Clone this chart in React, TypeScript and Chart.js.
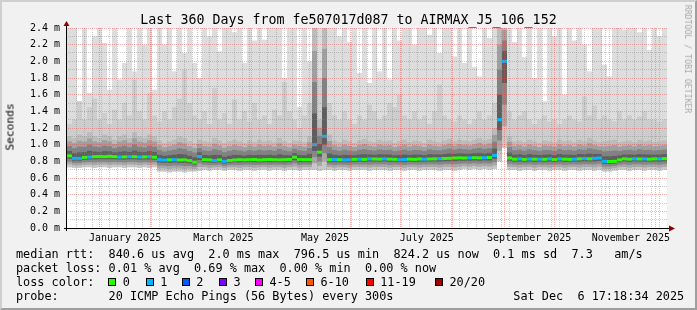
import React, { useEffect, useRef } from "react";
import { Chart, registerables } from "chart.js";

Chart.register(...registerables);

// ---------------- text ----------------
const TITLE = "Last 360 Days from fe507017d087 to AIRMAX_J5_106_152";
const Y_TITLE = "Seconds";
const WATERMARK = "RRDTOOL / TOBI OETIKER";
const LEGEND_RTT = "median rtt:  840.6 us avg  2.0 ms max  796.5 us min  824.2 us now  0.1 ms sd  7.3   am/s";
const LEGEND_LOSS = "packet loss: 0.01 % avg  0.69 % max  0.00 % min  0.00 % now";
const LEGEND_COLOR = "loss color:";
const PROBE = "probe:       20 ICMP Echo Pings (56 Bytes) every 300s";
const STAMP = "Sat Dec  6 17:18:34 2025";

// ---------------- axes ----------------
const SPAN_DAYS = 360;
const SLOT_DAYS = 3; // one smoke column = 3 days
const START = Date.UTC(2024, 11, 12, 16, 0);
const DAY_MS = 86400000;
const yTicks = [0, 0.2, 0.4, 0.6, 0.8, 1.0, 1.2, 1.4, 1.6, 1.8, 2.0, 2.2, 2.4];
const monthLabels = ["January 2025", "March 2025", "May 2025", "July 2025", "September 2025", "November 2025"];
const monthLabelIdx = [0, 2, 4, 6, 8, 10];

// ---------------- loss legend ----------------
const lossColors = ["#26ff00", "#00b8ff", "#0059ff", "#7e00ff", "#ff00ff", "#ff5500", "#ff0000", "#a10000"];
const lossLabels = ["0", "1", "2", "3", "4-5", "6-10", "11-19", "20/20"];

// ---------------- data (ms), 120 columns ----------------
const smokeTop = [
  2.5, 2.5, 1.52, 2.5, 1.62, 2.3, 2.5, 2.22, 1.66, 2.5,
  1.78, 1.98, 2.5, 1.88, 2.5, 2.2, 2.5, 1.66, 2.5, 2.2,
  2.5, 1.88, 2.5, 2.1, 2.5, 1.98, 1.8, 2.5, 2.3, 2.5,
  2.12, 2.5, 2.5, 2.35, 2.5, 1.98, 2.5, 2.25, 2.5, 2.26,
  2.5, 2.5, 2.5, 1.8, 2.5, 2.5, 1.45, 2.5, 2.0, 2.5,
  2.5, 2.5, 2.5, 2.5, 2.3, 2.5, 2.23, 2.5, 1.86, 2.5,
  1.74, 2.5, 1.88, 2.5, 1.78, 2.5, 2.25, 2.5, 2.5, 2.2,
  2.5, 2.5, 2.32, 2.5, 2.1, 2.5, 2.5, 2.06, 2.5, 1.98,
  2.5, 1.93, 1.82, 2.5, 2.28, 2.5, 2.5, 2.5, 2.5, 2.23,
  2.5, 2.05, 2.5, 1.8, 2.5, 1.52, 2.5, 2.3, 2.5, 1.6,
  2.5, 2.25, 2.5, 2.2, 1.88, 2.5, 2.5, 1.96, 1.82, 2.5,
  2.5, 2.38, 2.5, 2.5, 2.35, 2.5, 2.14, 2.5, 2.3, 2.5,
];

const smokeHi = [
  1.25, 1.3, 1.52, 1.3, 1.45, 1.55, 1.3, 1.38, 1.25, 1.42,
  1.3, 1.5, 1.35, 1.78, 1.4, 1.3, 1.62, 1.35, 1.28, 1.4,
  1.3, 1.45, 1.55, 1.9, 1.5, 1.35, 1.3, 1.4, 1.25, 1.68,
  1.3, 1.38, 1.25, 1.54, 1.3, 1.4, 1.28, 1.5, 1.3, 1.35,
  1.25, 1.42, 1.35, 1.75, 1.4, 1.3, 1.2, 1.35, 1.5, 2.5,
  1.8, 2.5, 1.5, 1.35, 1.3, 1.4, 1.3, 1.25, 1.35, 1.3,
  1.48, 1.4, 1.3, 1.35, 1.5, 1.45, 1.6, 1.35, 1.3, 1.4,
  1.3, 1.35, 1.25, 1.4, 1.72, 1.35, 1.3, 1.28, 1.35, 1.3,
  1.25, 1.3, 1.4, 1.3, 1.35, 1.5, 2.5, 2.5, 1.4, 1.3,
  1.35, 1.4, 1.3, 1.25, 1.3, 1.35, 1.28, 1.3, 1.25, 1.3,
  1.35, 1.3, 1.28, 1.58, 1.35, 1.47, 1.3, 1.35, 1.3, 1.28,
  1.4, 1.3, 1.35, 1.3, 1.34, 1.4, 1.3, 1.3, 1.28, 1.3,
];

const smokeMid = [
  1.1, 1.08, 1.12, 1.1, 1.15, 1.1, 1.08, 1.12, 1.1, 1.06,
  1.1, 1.12, 1.08, 1.15, 1.1, 1.08, 1.12, 1.1, 1.05, 1.02,
  1.04, 1.06, 1.1, 1.08, 1.04, 1.02, 1.06, 1.04, 1.03, 1.08,
  1.05, 1.02, 1.04, 1.06, 1.04, 1.02, 1.05, 1.03, 1.06, 1.04,
  1.05, 1.03, 1.08, 1.04, 1.02, 1.05, 1.04, 1.03, 1.1, 2.5,
  1.3, 2.5, 1.12, 1.05, 1.03, 1.06, 1.04, 1.02, 1.05, 1.07,
  1.04, 1.03, 1.06, 1.04, 1.05, 1.02, 1.04, 1.06, 1.03, 1.05,
  1.04, 1.02, 1.06, 1.04, 1.03, 1.05, 1.07, 1.04, 1.06, 1.05,
  1.04, 1.06, 1.08, 1.05, 1.07, 1.2, 2.5, 2.5, 1.1, 1.04,
  1.05, 1.03, 1.06, 1.04, 1.02, 1.05, 1.04, 1.03, 1.06, 1.04,
  1.05, 1.03, 1.06, 1.04, 1.08, 1.05, 1.03, 1.04, 1.05, 1.06,
  1.03, 1.04, 1.05, 1.03, 1.06, 1.04, 1.05, 1.03, 1.04, 1.05,
];

const median = [
  0.866, 0.836, 0.836, 0.848, 0.852, 0.856, 0.858, 0.856, 0.86, 0.856,
  0.852, 0.854, 0.856, 0.856, 0.852, 0.854, 0.856, 0.85, 0.82, 0.816,
  0.818, 0.82, 0.816, 0.818, 0.808, 0.79, 0.858, 0.82, 0.818, 0.81,
  0.818, 0.8, 0.81, 0.816, 0.82, 0.818, 0.82, 0.822, 0.816, 0.82,
  0.822, 0.82, 0.818, 0.82, 0.822, 0.85, 0.822, 0.82, 0.82, 1.0,
  0.91, 1.1, 0.82, 0.822, 0.82, 0.818, 0.82, 0.824, 0.826, 0.824,
  0.83, 0.828, 0.826, 0.83, 0.826, 0.824, 0.82, 0.822, 0.826, 0.824,
  0.828, 0.826, 0.828, 0.83, 0.832, 0.834, 0.836, 0.84, 0.842, 0.84,
  0.842, 0.844, 0.842, 0.844, 0.846, 0.87, 1.3, 2.0, 0.84, 0.826,
  0.83, 0.824, 0.828, 0.826, 0.826, 0.824, 0.83, 0.822, 0.83, 0.826,
  0.824, 0.826, 0.83, 0.834, 0.83, 0.836, 0.84, 0.8, 0.798, 0.8,
  0.818, 0.83, 0.826, 0.83, 0.828, 0.83, 0.826, 0.83, 0.83, 0.832,
];

const smokeMin = [
  0.73, 0.72, 0.72, 0.73, 0.73, 0.72, 0.73, 0.73, 0.72, 0.73,
  0.73, 0.72, 0.73, 0.73, 0.72, 0.73, 0.72, 0.73, 0.68, 0.68,
  0.67, 0.68, 0.68, 0.67, 0.68, 0.68, 0.69, 0.7, 0.69, 0.7,
  0.7, 0.69, 0.7, 0.7, 0.69, 0.7, 0.7, 0.69, 0.7, 0.7,
  0.69, 0.7, 0.7, 0.69, 0.7, 0.7, 0.69, 0.7, 0.7, 0.7,
  0.69, 0.7, 0.7, 0.69, 0.7, 0.7, 0.69, 0.7, 0.7, 0.7,
  0.69, 0.7, 0.7, 0.7, 0.69, 0.7, 0.7, 0.69, 0.7, 0.7,
  0.69, 0.7, 0.7, 0.7, 0.69, 0.7, 0.7, 0.69, 0.7, 0.71,
  0.7, 0.71, 0.7, 0.71, 0.7, 0.71, 0.8, 0.96, 0.7, 0.7,
  0.69, 0.7, 0.7, 0.69, 0.7, 0.7, 0.69, 0.7, 0.7, 0.69,
  0.7, 0.7, 0.69, 0.7, 0.7, 0.69, 0.7, 0.68, 0.68, 0.69,
  0.7, 0.7, 0.69, 0.7, 0.7, 0.69, 0.7, 0.7, 0.69, 0.7,
];

// lost pings per column (index into lossColors)
const loss = [
  0, 1, 1, 0, 1, 0, 0, 0, 0, 0,
  1, 0, 1, 0, 1, 0, 1, 0, 1, 1,
  0, 1, 0, 0, 0, 0, 1, 0, 0, 1,
  0, 1, 0, 0, 0, 0, 0, 0, 0, 0,
  0, 0, 0, 0, 0, 0, 0, 0, 0, 1,
  0, 1, 0, 1, 0, 1, 1, 0, 1, 0,
  1, 0, 0, 1, 0, 0, 1, 1, 0, 0,
  0, 1, 0, 0, 1, 0, 0, 0, 0, 0,
  1, 0, 0, 1, 0, 1, 1, 1, 0, 0,
  1, 0, 1, 0, 1, 0, 1, 0, 1, 0,
  0, 1, 0, 1, 0, 1, 1, 1, 0, 0,
  0, 0, 0, 1, 0, 1, 0, 0, 1, 0,
];

// ---------------- helpers ----------------
const dayOf = (ms: number) => (ms - START) / DAY_MS;
const monthStartDays = Array.from({ length: 12 }, (_, m) => dayOf(Date.UTC(2025, m, 1)));
const monthMidDays = monthLabelIdx.map((m) => (dayOf(Date.UTC(2025, m, 1)) + dayOf(Date.UTC(2025, m + 1, 1))) / 2);
const xs = smokeTop.map((_, i) => i * SLOT_DAYS + SLOT_DAYS / 2);

const FONT = '"DejaVu Sans Mono", "Liberation Mono", monospace';

function buildDatasets() {
  const ds: any[] = [];
  const add = (lo: (i: number) => number, hi: (i: number) => number, color: any) => {
    ds.push({
      type: "bar",
      data: xs.map((x, i) => ({ x, y: [lo(i), hi(i)] })),
      backgroundColor: color,
      borderWidth: 0,
      grouped: false,
      barPercentage: 1,
      categoryPercentage: 1,
      inflateAmount: 0,
      order: 1000 - ds.length,
    });
  };
  add((i) => smokeMin[i], (i) => smokeTop[i], "#dddddd");
  add((i) => smokeMin[i], (i) => smokeHi[i], "#cdcdcd");
  // upper smoke shading (median -> smokeMid)
  const upper = ["#bcbcbc", "#a0a0a0", "#828282", "#5e5e5e"];
  upper.forEach((c, k) => {
    const f = (4 - k) / 4;
    add((i) => median[i], (i) => median[i] + (smokeMid[i] - median[i]) * f, c);
  });
  // lower smoke shading (smokeMin -> median)
  const lower = ["#c8c8c8", "#a8a8a8", "#878787", "#5e5e5e"];
  lower.forEach((c, k) => {
    const f = k / 4;
    add((i) => smokeMin[i] + (median[i] - smokeMin[i]) * f, (i) => median[i], c);
  });
  // median
  add((i) => median[i] - 0.018, (i) => median[i] + 0.018, loss.map((l) => lossColors[l]));
  return ds;
}

const rrdPlugin = {
  id: "rrdGrid",
  beforeDatasetsDraw(chart: any) {
    const { ctx, chartArea: a } = chart;
    ctx.save();
    ctx.fillStyle = "#ffffff";
    ctx.fillRect(a.left, a.top, a.right - a.left, a.bottom - a.top);
    ctx.restore();
  },
  afterDatasetsDraw(chart: any) {
    const { ctx, chartArea: a, scales } = chart;
    const x = scales.x;
    const y = scales.y;
    ctx.save();
    const hline = (v: number, color: string) => {
      const py = Math.floor(y.getPixelForValue(v));
      if (py < a.top || py >= a.bottom) return;
      ctx.fillStyle = color;
      for (let px = Math.ceil(a.left) + 1; px < a.right; px += 2) ctx.fillRect(px, py, 1, 1);
    };
    const vline = (d: number, color: string) => {
      const px = Math.floor(x.getPixelForValue(d));
      if (px <= a.left || px >= a.right) return;
      ctx.fillStyle = color;
      for (let py = Math.ceil(a.top); py < a.bottom; py += 2) ctx.fillRect(px, py, 1, 1);
    };
    const minor = "rgba(130,130,130,0.42)";
    const major = "rgba(235,70,70,0.42)";
    for (let k = 1; k < 24; k += 2) hline(k / 10, minor);
    for (let d = 5.5; d < SPAN_DAYS; d += 5) vline(d, minor);
    yTicks.forEach((v) => v > 0 && hline(v, major));
    monthStartDays.forEach((d) => vline(d, major));
    // axes
    ctx.fillStyle = "#000";
    ctx.fillRect(Math.round(a.left) - 1, a.top - 6, 1, a.bottom - a.top + 9);
    ctx.fillRect(a.left - 3, Math.round(a.bottom), a.right - a.left + 9, 1);
    ctx.fillStyle = "#8b0000";
    ctx.beginPath();
    ctx.moveTo(a.left - 0.5, a.top - 7);
    ctx.lineTo(a.left - 3.5, a.top - 2);
    ctx.lineTo(a.left + 2.5, a.top - 2);
    ctx.closePath();
    ctx.fill();
    ctx.beginPath();
    ctx.moveTo(a.right + 8, a.bottom + 0.5);
    ctx.lineTo(a.right + 2, a.bottom - 2.5);
    ctx.lineTo(a.right + 2, a.bottom + 3.5);
    ctx.closePath();
    ctx.fill();
    ctx.restore();
  },
};

const Txt = ({ x, y, size, color = "#000", children }: any) => (
  <div
    style={{
      position: "absolute",
      left: x,
      top: y,
      transform: "translateY(-50%)",
      fontSize: size,
      lineHeight: "normal",
      whiteSpace: "pre",
      color,
    }}
  >
    {children}
  </div>
);

const boxX = [108.3, 145.7, 181.7, 219, 255, 306, 365.7, 435];

export default function App() {
  const ref = useRef<HTMLCanvasElement>(null);
  useEffect(() => {
    const chart = new Chart(ref.current as HTMLCanvasElement, {
      type: "bar",
      data: { datasets: buildDatasets() },
      plugins: [rrdPlugin],
      options: {
        animation: false,
        responsive: false,
        devicePixelRatio: 1,
        events: [],
        layout: { padding: { left: 0, right: 30, top: 28, bottom: 62 } },
        plugins: { legend: { display: false }, tooltip: { enabled: false }, title: { display: false } },
        scales: {
          x: {
            type: "linear",
            min: 0,
            max: SPAN_DAYS,
            offset: false,
            grid: { display: false, offset: false, drawTicks: false, tickLength: 0 },
            border: { display: false },
            afterFit: (s: any) => {
              s.height = 20;
            },
            afterBuildTicks: (s: any) => {
              s.ticks = monthMidDays.map((v) => ({ value: v }));
            },
            ticks: {
              autoSkip: false,
              maxRotation: 0,
              minRotation: 0,
              padding: 4,
              color: "#000",
              font: { family: FONT, size: 10 },
              callback: (_v: any, i: number) => monthLabels[i],
            },
          },
          y: {
            type: "linear",
            min: 0,
            max: 2.4,
            grid: { display: false, drawTicks: false, tickLength: 0 },
            border: { display: false },
            afterFit: (s: any) => {
              s.width = 67;
            },
            afterBuildTicks: (s: any) => {
              s.ticks = yTicks.map((v) => ({ value: v }));
            },
            ticks: {
              autoSkip: false,
              padding: 7,
              color: "#000",
              font: { family: FONT, size: 10 },
              callback: (v: any) => Number(v).toFixed(1) + " m",
            },
          },
        },
      } as any,
    });
    return () => chart.destroy();
  }, []);

  return (
    <div
      style={{
        position: "fixed",
        left: 0,
        top: 0,
        width: 697,
        height: 310,
        background: "#f1f1f1",
        overflow: "hidden",
        fontFamily: FONT,
      }}
    >
      <canvas ref={ref} width={697} height={310} style={{ position: "absolute", left: 0, top: 0, width: 697, height: 310 }} />
      <div
        style={{
          position: "absolute",
          left: 0,
          top: 19.4,
          width: 697,
          textAlign: "center",
          transform: "translateY(-50%)",
          fontSize: 13.3,
          lineHeight: "normal",
          whiteSpace: "pre",
        }}
      >
        {TITLE}
      </div>
      <div
        style={{
          position: "absolute",
          left: 10,
          top: 127,
          transform: "translate(-50%,-50%) rotate(-90deg)",
          fontSize: 11.2,
          lineHeight: "normal",
          whiteSpace: "pre",
          color: "#000",
        }}
      >
        {Y_TITLE}
      </div>
      <div
        style={{
          position: "absolute",
          left: 687.5,
          top: 59,
          transform: "translate(-50%,-50%) rotate(90deg)",
          fontSize: 8.2,
          lineHeight: "normal",
          whiteSpace: "pre",
          color: "#a8a8a8",
        }}
      >
        {WATERMARK}
      </div>
      <Txt x={16} y={253.5} size={11.83}>{LEGEND_RTT}</Txt>
      <Txt x={16} y={268} size={11.83}>{LEGEND_LOSS}</Txt>
      <Txt x={16} y={281.7} size={11.83}>{LEGEND_COLOR}</Txt>
      {lossColors.map((c, i) => (
        <React.Fragment key={i}>
          <div
            style={{
              position: "absolute",
              left: boxX[i],
              top: 277.7,
              width: 8,
              height: 8,
              boxSizing: "border-box",
              border: "1px solid #000",
              background: c,
            }}
          />
          <Txt x={boxX[i] + 14.5} y={281.7} size={11.83}>{lossLabels[i]}</Txt>
        </React.Fragment>
      ))}
      <Txt x={16} y={296} size={11.83}>{PROBE}</Txt>
      <Txt x={513.3} y={296} size={11.83}>{STAMP}</Txt>
      <div
        style={{
          position: "absolute",
          left: 0,
          top: 0,
          width: 697,
          height: 310,
          boxSizing: "border-box",
          borderStyle: "solid",
          borderWidth: 2,
          borderColor: "#cfcfcf #9e9e9e #9e9e9e #cfcfcf",
          pointerEvents: "none",
        }}
      />
    </div>
  );
}
